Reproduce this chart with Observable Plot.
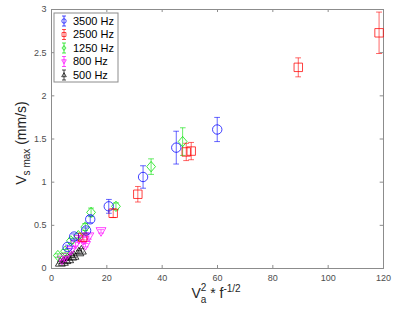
<!DOCTYPE html>
<html><head><meta charset="utf-8">
<script src="https://cdn.jsdelivr.net/npm/d3@7"></script>
<script src="https://cdn.jsdelivr.net/npm/@observablehq/plot@0.6"></script>
<style>body{margin:0;background:#fff} svg{display:block}</style>
</head><body><div id="chart"></div>
<script>
// Series names and colours
const seriesNames = ["3500 Hz", "2500 Hz", "1250 Hz", "800 Hz", "500 Hz"];
const seriesColors = ["#0000ff", "#ff0000", "#00e000", "#ff00ff", "#000000"];

// 3500 Hz (blue circles)
const x3500 = [5.8, 8.2, 12.5, 14.0, 20.7, 33.1, 45.1, 59.9];
const y3500 = [0.25, 0.37, 0.44, 0.57, 0.72, 1.06, 1.40, 1.61];
const e3500 = [0.02, 0.03, 0.03, 0.04, 0.08, 0.13, 0.19, 0.14];
// 2500 Hz (red squares)
const x2500 = [11.3, 22.3, 31.2, 48.7, 50.5, 89.2, 118.4];
const y2500 = [0.36, 0.64, 0.86, 1.35, 1.36, 2.33, 2.73];
const e2500 = [0.03, 0.05, 0.09, 0.10, 0.10, 0.11, 0.24];
// 1250 Hz (green diamonds)
const x1250 = [2.3, 4.9, 7.0, 9.7, 12.2, 14.3, 23.3, 36.0, 47.4];
const y1250 = [0.15, 0.20, 0.32, 0.38, 0.48, 0.65, 0.72, 1.18, 1.47];
const e1250 = [0.02, 0.02, 0.03, 0.03, 0.04, 0.05, 0.04, 0.09, 0.16];
// 800 Hz (magenta down-triangles)
const x800 = [3.8, 5.1, 7.1, 8.7, 9.9, 11.7, 12.3, 13.5, 17.9];
const y800 = [0.10, 0.13, 0.21, 0.28, 0.34, 0.33, 0.27, 0.37, 0.43];
const e800 = [0.01, 0.01, 0.02, 0.02, 0.02, 0.03, 0.02, 0.03, 0.02];
// 500 Hz (black up-triangles)
const x500 = [3.2, 4.3, 5.2, 6.2, 7.3, 8.1, 9.9, 10.8];
const y500 = [0.07, 0.08, 0.10, 0.11, 0.14, 0.15, 0.19, 0.21];
const e500 = [0.01, 0.01, 0.01, 0.01, 0.01, 0.02, 0.02, 0.02];

// Tick values
const xTicks = [0, 20, 40, 60, 80, 100, 120];
const yTicks = [0, 0.5, 1, 1.5, 2, 2.5, 3];

const font = "'Liberation Sans', Arial, Helvetica, sans-serif";

// custom MATLAB-like marker shapes
function rOf(size) { return Math.sqrt(size / Math.PI); }
const symCircle = {draw(c, size) { const r = rOf(size); c.moveTo(r, 0); c.arc(0, 0, r, 0, 2 * Math.PI); c.closePath(); }};
const symSquare = {draw(c, size) { const s = rOf(size) * 0.9; c.moveTo(-s, -s); c.lineTo(s, -s); c.lineTo(s, s); c.lineTo(-s, s); c.closePath(); }};
const symDiamond = {draw(c, size) { const r = rOf(size) * 1.1; c.moveTo(0, -r); c.lineTo(r * 0.85, 0); c.lineTo(0, r); c.lineTo(-r * 0.85, 0); c.closePath(); }};
const symTriUp = {draw(c, size) { const r = rOf(size) * 1.05; c.moveTo(0, -r); c.lineTo(r, r * 0.75); c.lineTo(-r, r * 0.75); c.closePath(); }};
const symTriDown = {draw(c, size) { const r = rOf(size) * 1.05; c.moveTo(0, r); c.lineTo(r, -r * 0.75); c.lineTo(-r, -r * 0.75); c.closePath(); }};
const symbols = [symCircle, symSquare, symDiamond, symTriDown, symTriUp];

const raw = [[x3500, y3500, e3500], [x2500, y2500, e2500], [x1250, y1250, e1250], [x800, y800, e800], [x500, y500, e500]];
const groups = raw.map(([xs, ys, es], i) => xs.map((x, j) => ({series: seriesNames[i], x, y: ys[j], e: es[j]})));

const marks = [
  Plot.frame({stroke: "#8c8c8c"}),
  Plot.ruleX(xTicks, {x: d => d, y1: 0, y2: 0.035, stroke: "#8c8c8c"}),
  Plot.ruleX(xTicks, {x: d => d, y1: 3, y2: 2.965, stroke: "#8c8c8c"}),
  Plot.ruleY(yTicks, {y: d => d, x1: 0, x2: 1.2, stroke: "#8c8c8c"}),
  Plot.ruleY(yTicks, {y: d => d, x1: 120, x2: 118.8, stroke: "#8c8c8c"}),
  Plot.axisX({ticks: xTicks, tickSize: 0, tickPadding: 6, tickFormat: d => String(d), label: null, color: "#4d4d4d", fontSize: 9}),
  Plot.axisY({ticks: yTicks, tickSize: 0, tickPadding: 5, tickFormat: d => String(d), label: null, color: "#4d4d4d", fontSize: 9})
];
for (let i = groups.length - 1; i >= 0; i--) {
  marks.push(Plot.link(groups[i], {x1: "x", x2: "x", y1: d => d.y - d.e, y2: d => d.y + d.e,
    stroke: seriesColors[i], strokeOpacity: 0.6, strokeWidth: 1, markerStart: "tick", markerEnd: "tick"}));
  marks.push(Plot.dot(groups[i], {x: "x", y: "y", r: 4.7, symbol: symbols[i], stroke: seriesColors[i], strokeOpacity: 0.75, strokeWidth: 1, fill: "none"}));
}

const plot = Plot.plot({
  width: 399, height: 313,
  marginLeft: 51, marginRight: 16, marginTop: 9, marginBottom: 45,
  x: {domain: [0, 120]},
  y: {domain: [0, 3]},
  style: {fontFamily: font, fontSize: "9px", background: "#fff"},
  marks
});
document.getElementById("chart").appendChild(plot);

const svg = d3.select(plot);
// legend
const lg = svg.append("g").attr("text-anchor", "start");
lg.append("rect").attr("x", 54).attr("y", 13).attr("width", 64).attr("height", 69)
  .attr("fill", "#fff").attr("stroke", "#8c8c8c");
seriesNames.forEach((name, i) => {
  const cy = 21 + i * 13.5, cx = 64;
  const g = lg.append("g").attr("stroke", seriesColors[i]).attr("stroke-opacity", 0.7).attr("fill", "none");
  g.append("line").attr("x1", cx).attr("x2", cx).attr("y1", cy - 5).attr("y2", cy + 5);
  g.append("line").attr("x1", cx - 2).attr("x2", cx + 2).attr("y1", cy - 5).attr("y2", cy - 5);
  g.append("line").attr("x1", cx - 2).attr("x2", cx + 2).attr("y1", cy + 5).attr("y2", cy + 5);
  const p = d3.path(); symbols[i].draw(p, Math.PI * 2.2 * 2.2);
  g.append("path").attr("d", p.toString()).attr("transform", `translate(${cx},${cy})`);
  lg.append("text").attr("x", 73).attr("y", cy).attr("dy", "0.36em").attr("font-size", 11)
    .attr("text-anchor", "start").attr("fill", "#000").attr("font-family", font).text(name);
});

// x label: V_a^2 * f^-1/2
const xl = svg.append("text").attr("x", 216).attr("y", 298).attr("text-anchor", "middle")
  .attr("font-family", font).attr("font-size", 14).attr("fill", "#262626");
xl.append("tspan").text("V");
xl.append("tspan").attr("font-size", 10).attr("dy", 5).text("a");
xl.append("tspan").attr("font-size", 10).attr("dx", -5.6).attr("dy", -12).text("2");
xl.append("tspan").attr("dy", 7).text(" * f");
xl.append("tspan").attr("font-size", 10).attr("dy", -6).text("-1/2");

// y label: V_s max (mm/s)
const yl = svg.append("text").attr("transform", "translate(25.5,143) rotate(-90)").attr("text-anchor", "middle")
  .attr("font-family", font).attr("font-size", 14).attr("fill", "#262626");
yl.append("tspan").text("V");
yl.append("tspan").attr("font-size", 10).attr("dy", 4).text("s max");
yl.append("tspan").attr("dy", -4).text(" (mm/s)");
</script>
</body></html>
